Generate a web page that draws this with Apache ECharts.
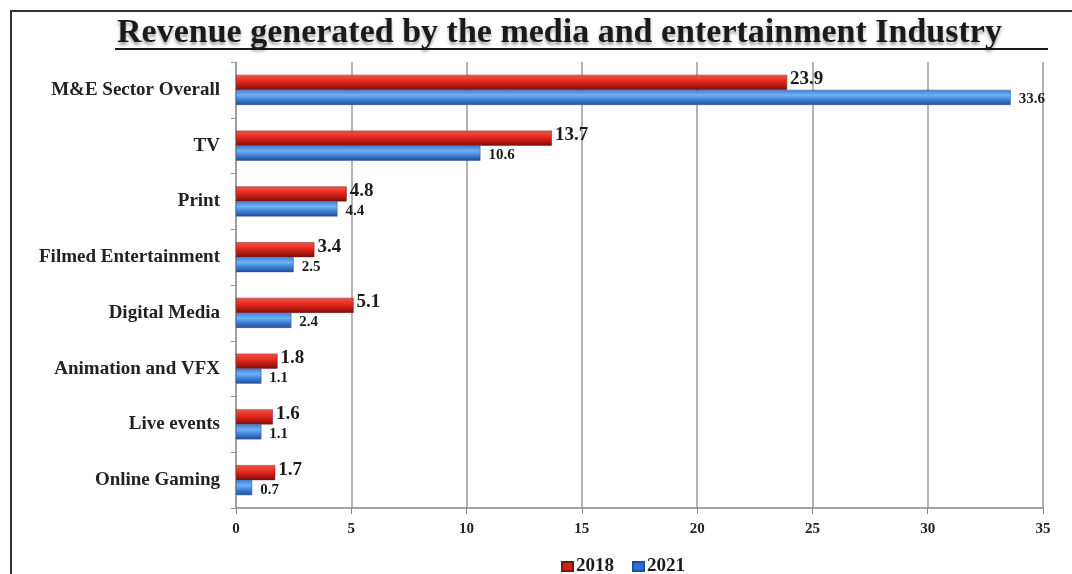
<!DOCTYPE html>
<html>
<head>
<meta charset="utf-8">
<script src="https://cdn.jsdelivr.net/npm/echarts@6/dist/echarts.min.js"></script>
<style>
html, body { margin: 0; padding: 0; background: #fff; }
#chart { width: 1072px; height: 574px; }
</style>
</head>
<body>
<div id="chart"></div>
<script>
// data
const categories = [
  'M&E Sector Overall',
  'TV',
  'Print',
  'Filmed Entertainment',
  'Digital Media',
  'Animation and VFX',
  'Live events',
  'Online Gaming'
]
const values2018 = [23.9, 13.7, 4.8, 3.4, 5.1, 1.8, 1.6, 1.7]
const values2021 = [33.6, 10.6, 4.4, 2.5, 2.4, 1.1, 1.1, 0.7]

const serif = '"Liberation Serif", "DejaVu Serif", serif'

let chart = echarts.init(document.getElementById('chart'))

// red / blue with a darker lower edge, like the old 3D bars
const redFill = new echarts.graphic.LinearGradient(0, 0, 0, 1, [
  { offset: 0, color: '#f4584a' },
  { offset: 0.45, color: '#e2261c' },
  { offset: 0.7, color: '#b81a12' },
  { offset: 1, color: '#7c0f0a' }
])
const blueFill = new echarts.graphic.LinearGradient(0, 0, 0, 1, [
  { offset: 0, color: '#3f7fd8' },
  { offset: 0.35, color: '#6fb0f6' },
  { offset: 0.7, color: '#3a78d0' },
  { offset: 1, color: '#1f4e9c' }
])

let option = {
  animation: false,
  title: {
    text: 'Revenue generated by the media and entertainment Industry',
    left: 112,
    top: 11,
    textStyle: {
      fontFamily: serif,
      fontWeight: 'bold',
      fontSize: 34,
      color: '#1a1a1a',
      textShadowColor: 'rgba(0,0,0,0.35)',
      textShadowBlur: 3,
      textShadowOffsetY: 3
    }
  },
  graphic: [
    { // frame of the pasted chart
      type: 'polyline',
      shape: { points: [[11, 574], [11, 11], [1072, 11]] },
      style: { stroke: '#333', lineWidth: 2, fill: null }
    },
    { // title underline
      type: 'line',
      shape: { x1: 115, y1: 49, x2: 1048, y2: 49 },
      style: { stroke: '#1a1a1a', lineWidth: 2 }
    }
  ],
  legend: {
    left: 556,
    bottom: -7,
    itemWidth: 11,
    itemHeight: 9,
    itemGap: 18,
    icon: 'rect',
    textStyle: {
      fontFamily: serif,
      fontWeight: 'bold',
      fontSize: 19,
      color: '#1a1a1a',
      padding: [0, 0, 0, -2]
    },
    data: [
      { name: '2018', itemStyle: { color: '#d0231b' } },
      { name: '2021', itemStyle: { color: '#2f6fd0' } }
    ]
  },
  grid: {
    left: 236,
    right: 29,
    top: 62,
    bottom: 66
  },
  xAxis: {
    type: 'value',
    min: 0,
    max: 35,
    interval: 5,
    axisLine: { show: true, lineStyle: { color: '#888', width: 1.5 } },
    axisTick: { show: true, length: 6, lineStyle: { color: '#888' } },
    splitLine: { show: true, lineStyle: { color: '#b4b4b4', width: 2 } },
    axisLabel: {
      fontFamily: serif,
      fontWeight: 'bold',
      fontSize: 15,
      color: '#222',
      margin: 14
    }
  },
  yAxis: {
    type: 'category',
    inverse: true,
    data: categories,
    axisLine: { show: true, lineStyle: { color: '#999', width: 1.5 } },
    axisTick: { show: true, length: 5, lineStyle: { color: '#999' } },
    axisLabel: {
      fontFamily: serif,
      fontWeight: 'bold',
      fontSize: 19,
      color: '#222',
      margin: 16
    }
  },
  series: [
    {
      name: '2018',
      type: 'bar',
      data: values2018,
      barWidth: 15,
      barGap: '0%',
      itemStyle: { color: redFill, borderColor: '#7a1510', borderWidth: 0.5 },
      label: {
        show: true,
        position: 'right',
        distance: 3,
        offset: [0, -3],
        fontFamily: serif,
        fontWeight: 'bold',
        fontSize: 19,
        color: '#1a1a1a'
      }
    },
    {
      name: '2021',
      type: 'bar',
      data: values2021,
      barWidth: 15,
      itemStyle: { color: blueFill, borderColor: '#1f4e9c', borderWidth: 0.5 },
      label: {
        show: true,
        position: 'right',
        distance: 8,
        offset: [0, 2],
        fontFamily: serif,
        fontWeight: 'bold',
        fontSize: 15,
        color: '#1a1a1a'
      }
    }
  ]
}

chart.setOption(option)
</script>
</body>
</html>
